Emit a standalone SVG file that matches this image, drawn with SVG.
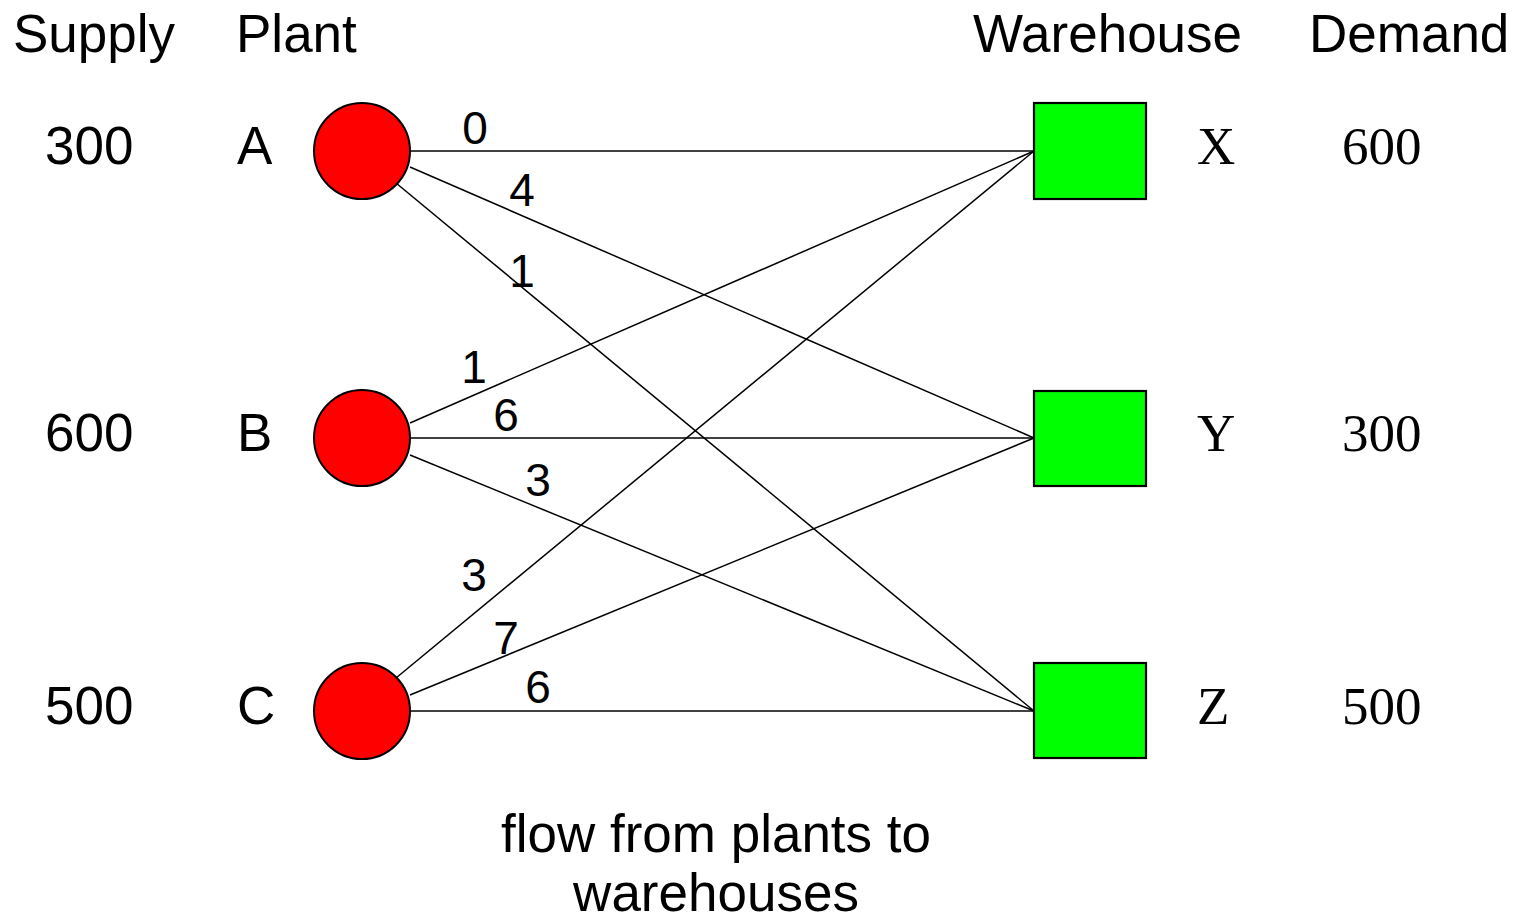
<svg xmlns="http://www.w3.org/2000/svg" width="1520" height="924" viewBox="0 0 1520 924">
  <style>
    .sans { font-family: "Liberation Sans", Arial, sans-serif; fill: #000; }
    .serif { font-family: "Liberation Serif", "Times New Roman", serif; fill: #000; }
    .big { font-size: 53px; }
    .cost { font-size: 46px; text-anchor: middle; }
    .plant { fill: #ff0000; stroke: #000; stroke-width: 2; }
    .wh { fill: #00ff00; stroke: #000; stroke-width: 2.2; }
    .edge { stroke: #000; stroke-width: 1.5; fill: none; }
  </style>
  <rect width="1520" height="924" fill="#fff"/>

  <!-- column headings -->
  <g id="headings" class="sans big">
    <text x="13" y="52">Supply</text>
    <text x="236" y="52">Plant</text>
    <text x="973" y="52">Warehouse</text>
    <text x="1309" y="52">Demand</text>
  </g>

  <!-- shipping routes -->
  <g id="connectors" class="edge">
    <line x1="410" y1="151" x2="1034" y2="151"/>
    <line x1="410" y1="167" x2="1034" y2="438"/>
    <line x1="396" y1="183" x2="1034" y2="711"/>
    <line x1="410" y1="423" x2="1034" y2="151"/>
    <line x1="410" y1="438" x2="1034" y2="438"/>
    <line x1="410" y1="455" x2="1034" y2="711"/>
    <line x1="396" y1="678" x2="1034" y2="151"/>
    <line x1="410" y1="695" x2="1034" y2="438"/>
    <line x1="410" y1="711" x2="1034" y2="711"/>
  </g>

  <!-- unit costs on routes -->
  <g id="costs" class="sans cost">
    <text x="475" y="144">0</text>
    <text x="522" y="206">4</text>
    <text x="522" y="287">1</text>
    <text x="474" y="383">1</text>
    <text x="506" y="431">6</text>
    <text x="538" y="496">3</text>
    <text x="474" y="591">3</text>
    <text x="506" y="654">7</text>
    <text x="538" y="703">6</text>
  </g>

  <!-- plants -->
  <g id="plant-A">
    <text class="sans big" x="45" y="164">300</text>
    <text class="sans big" x="237" y="164">A</text>
    <circle class="plant" cx="362" cy="151" r="48"/>
  </g>
  <g id="plant-B">
    <text class="sans big" x="45" y="451">600</text>
    <text class="sans big" x="237" y="451">B</text>
    <circle class="plant" cx="362" cy="438" r="48"/>
  </g>
  <g id="plant-C">
    <text class="sans big" x="45" y="724">500</text>
    <text class="sans big" x="237" y="724">C</text>
    <circle class="plant" cx="362" cy="711" r="48"/>
  </g>

  <!-- warehouses -->
  <g id="warehouse-X">
    <rect class="wh" x="1034" y="103" width="112" height="96"/>
    <text class="serif big" x="1197" y="164">X</text>
    <text class="serif big" x="1342" y="164">600</text>
  </g>
  <g id="warehouse-Y">
    <rect class="wh" x="1034" y="391" width="112" height="95"/>
    <text class="serif big" x="1197" y="451">Y</text>
    <text class="serif big" x="1342" y="451">300</text>
  </g>
  <g id="warehouse-Z">
    <rect class="wh" x="1034" y="663" width="112" height="95"/>
    <text class="serif big" x="1197" y="724">Z</text>
    <text class="serif big" x="1342" y="724">500</text>
  </g>

  <!-- caption -->
  <g id="caption" class="sans big" text-anchor="middle">
    <text x="716" y="852">flow from plants to</text>
    <text x="716" y="911">warehouses</text>
  </g>
</svg>
